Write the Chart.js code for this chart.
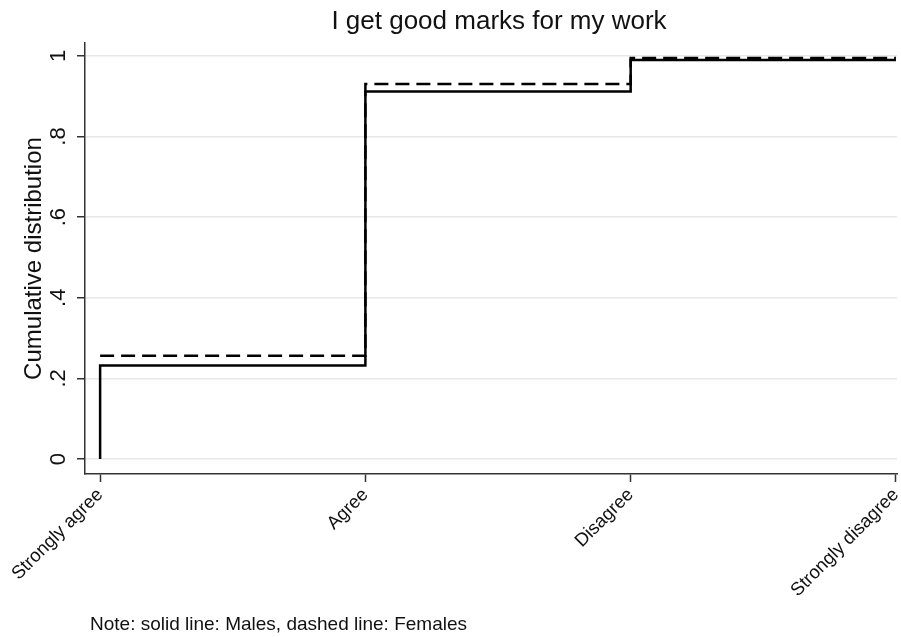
<!DOCTYPE html>
<html>
<head>
<meta charset="utf-8">
<script src="https://cdn.jsdelivr.net/npm/chart.js@4.4.1/dist/chart.umd.min.js"></script>
<style>
    body { margin: 0; background: #fff; }
    canvas { display: block; }
</style>
</head>
<body>
<canvas id="cdfChart" width="901" height="637"></canvas>
<script>
// values
var categories = ['Strongly agree', 'Agree', 'Disagree', 'Strongly disagree'];
var males = [0.232, 0.912, 0.990, 0.990];
var females = [0.256, 0.930, 0.995, 0.995];
var yTicks = [0, 0.2, 0.4, 0.6, 0.8, 1];
var yTickLabels = ['0', '.2', '.4', '.6', '.8', '1'];

var FONT = '"Liberation Sans", Arial, sans-serif';
var INK = '#111';

// cumulative step: starts from 0 at the first category
function stepPoints(values, fromZero) {
    var pts = values.map(function (v, i) { return { x: i, y: v }; });
    if (fromZero) {
        pts.unshift({ x: 0, y: 0 });
    }
    return pts;
}

// draws the texts Stata puts around the plot
var textPlugin = {
    id: 'stataTexts',
    afterDraw: function (chart) {
        var ctx = chart.ctx;
        var area = chart.chartArea;
        var yScale = chart.scales.y;
        ctx.save();
        ctx.fillStyle = INK;

        // title
        ctx.font = '26px ' + FONT;
        ctx.textAlign = 'center';
        ctx.textBaseline = 'alphabetic';
        ctx.fillText('I get good marks for my work', 499, 29);

        // y tick labels, rotated like the original
        ctx.font = '22px ' + FONT;
        yTicks.forEach(function (v, i) {
            ctx.save();
            ctx.translate(65, yScale.getPixelForValue(v));
            ctx.rotate(-Math.PI / 2);
            ctx.textAlign = 'center';
            ctx.fillText(yTickLabels[i], 0, 0);
            ctx.restore();
        });

        // y axis title
        ctx.save();
        ctx.translate(41, (area.top + area.bottom) / 2);
        ctx.rotate(-Math.PI / 2);
        ctx.textAlign = 'center';
        ctx.font = '24px ' + FONT;
        ctx.fillText('Cumulative distribution', 0, 0);
        ctx.restore();

        // note
        ctx.font = '19px ' + FONT;
        ctx.textAlign = 'left';
        ctx.fillText('Note: solid line: Males, dashed line: Females', 90, 630);
        ctx.restore();
    }
};

var ctx = document.getElementById('cdfChart').getContext('2d');
var myChart = new Chart(ctx, {
    type: 'line',
    plugins: [textPlugin],
    data: {
        datasets: [{
            label: 'Males',
            data: stepPoints(males, true),
            borderColor: '#000',
            borderWidth: 2.5,
            stepped: 'before',
            pointRadius: 0,
            fill: false
        }, {
            label: 'Females',
            data: stepPoints(females, false),
            borderColor: '#000',
            borderWidth: 2.5,
            borderDash: [14, 7],
            stepped: 'before',
            pointRadius: 0,
            fill: false
        }]
    },
    options: {
        responsive: false,
        animation: false,
        layout: {
            padding: { top: 43, right: 4, left: 0, bottom: 0 }
        },
        plugins: {
            legend: { display: false },
            title: { display: false },
            tooltip: { enabled: false }
        },
        scales: {
            x: {
                type: 'linear',
                min: -0.057,
                max: 3.004,
                afterBuildTicks: function (scale) {
                    scale.ticks = categories.map(function (c, i) { return { value: i }; });
                },
                afterFit: function (scale) {
                    scale.height = 163;
                    scale.paddingLeft = 0;
                    scale.paddingRight = 0;
                },
                ticks: {
                    autoSkip: false,
                    minRotation: 45,
                    maxRotation: 45,
                    padding: 2,
                    color: INK,
                    font: { family: FONT, size: 18.5 },
                    callback: function (value) {
                        return categories[value];
                    }
                },
                grid: {
                    drawOnChartArea: false,
                    tickLength: 8,
                    tickColor: '#333',
                    tickWidth: 1.5
                },
                border: { display: true, color: '#333', width: 1.5 }
            },
            y: {
                type: 'linear',
                min: -0.037,
                max: 1.032,
                afterBuildTicks: function (scale) {
                    scale.ticks = yTicks.map(function (v) { return { value: v }; });
                },
                afterFit: function (scale) {
                    scale.width = 85;
                    scale.paddingTop = 0;
                    scale.paddingBottom = 0;
                },
                ticks: {
                    display: false
                },
                grid: {
                    color: '#e8e8e8',
                    lineWidth: 1.5,
                    tickLength: 8,
                    tickColor: '#333',
                    tickWidth: 1.5
                },
                border: { display: true, color: '#333', width: 1.5 }
            }
        }
    }
});
</script>
</body>
</html>
